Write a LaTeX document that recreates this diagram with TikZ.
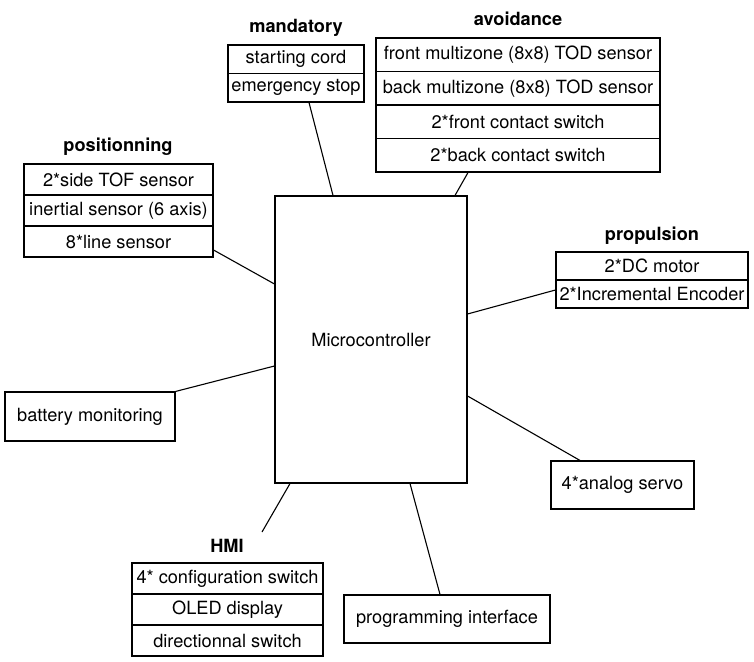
\documentclass[tikz,border=0pt]{standalone}
\usepackage{fontspec}
\setmainfont{TeX Gyre Heros}
\begin{document}
\begin{tikzpicture}[x=1pt,y=-1pt,
  every node/.style={font=\fontsize{18.2}{21}\selectfont},
  cell/.style={draw,line width=1.1pt,rectangle,inner sep=0pt},
  grouplabel/.style={font=\fontsize{18.2}{21}\selectfont\bfseries,inner sep=0pt},
  link/.style={line width=1.1pt}]
\useasboundingbox (0,0) rectangle (754,661);
% positionning
\node[grouplabel] (posl) at (118,147) {positionning};
\node[cell,minimum width=189pt,minimum height=31pt] (pos1) at (118.5,179.5) {2*side TOF sensor};
\node[cell,minimum width=189pt,minimum height=31pt] (pos2) at (118.5,210.5) {inertial sensor (6 axis)};
\node[cell,minimum width=189pt,minimum height=31pt] (pos3) at (118.5,241.5) {8*line sensor};
% mandatory
\node[grouplabel] (manl) at (296,28) {mandatory};
\node[cell,minimum width=136pt,minimum height=28.5pt] (man1) at (296,59.25) {starting cord};
\node[cell,minimum width=136pt,minimum height=28.5pt] (man2) at (296,87.75) {emergency stop};
% avoidance
\node[grouplabel] (avl) at (518,19) {avoidance};
\node[cell,minimum width=284pt,minimum height=33.5pt] (av1) at (518,54.75) {front multizone (8x8) TOD sensor};
\node[cell,minimum width=284pt,minimum height=33.5pt] (av2) at (518,88.25) {back multizone (8x8) TOD sensor};
\node[cell,minimum width=284pt,minimum height=33.5pt] (av3) at (518,121.75) {2*front contact switch};
\node[cell,minimum width=284pt,minimum height=33.5pt] (av4) at (518,155.25) {2*back contact switch};
% propulsion
\node[grouplabel] (prl) at (652,236) {propulsion};
\node[cell,minimum width=192pt,minimum height=28pt] (pr1) at (652,266) {2*DC motor};
\node[cell,minimum width=192pt,minimum height=28pt] (pr2) at (652,294) {2*Incremental Encoder};
% microcontroller
\node[cell,minimum width=192pt,minimum height=287pt] (mc) at (371,339.5) {Microcontroller};
% battery
\node[cell,minimum width=170pt,minimum height=49pt] (bat) at (90,416.5) {battery monitoring};
% servo
\node[cell,minimum width=143pt,minimum height=48pt] (servo) at (622.5,485) {4*analog servo};
% programming
\node[cell,minimum width=206pt,minimum height=48pt] (prog) at (447,619) {programming interface};
% HMI
\node[grouplabel] (hmil) at (227,546) {HMI};
\node[cell,minimum width=191pt,minimum height=31pt] (hmi1) at (227.5,578.5) {4* configuration switch};
\node[cell,minimum width=191pt,minimum height=31pt] (hmi2) at (227.5,609.5) {OLED display};
\node[cell,minimum width=191pt,minimum height=31pt] (hmi3) at (227.5,640.5) {directionnal switch};
\coordinate (hmiend) at (262,532);
% connectors
\draw[link] ([yshift=-8.5pt]pos3.east) -- ([yshift=55.5pt]mc.west);
\draw[link] ([xshift=13pt]man2.south) -- ([xshift=-38pt]mc.north);
\draw[link] ([xshift=-50pt]av4.south) -- ([xshift=84pt]mc.north);
\draw[link] ([yshift=4pt]pr2.west) -- ([yshift=25.5pt]mc.east);
\draw[link] (bat.north east) -- ([yshift=-26.5pt]mc.west);
\draw[link] ([xshift=-42.5pt]servo.north) -- ([yshift=-56.5pt]mc.east);
\draw[link] ([xshift=-7pt]prog.north) -- ([xshift=39pt]mc.south);
\draw[link] ([xshift=-81pt]mc.south) -- (hmiend);
\end{tikzpicture}
\end{document}
